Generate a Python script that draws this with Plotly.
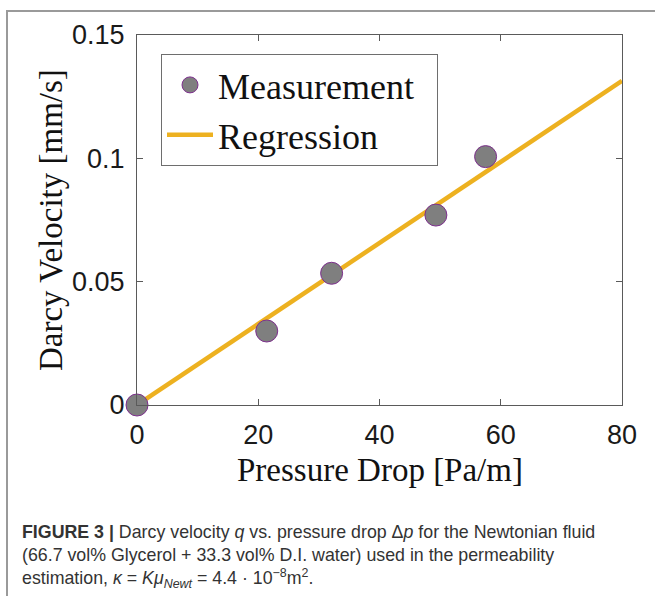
import plotly.graph_objects as go

# Data
pressure_drop = [0, 21.4, 32.1, 49.3, 57.5]          # Pa/m
darcy_velocity = [0, 0.0300, 0.0534, 0.0770, 0.1007]  # mm/s
reg_x = [0, 80]
reg_y = [0, 0.1314]
x_ticks = [0, 20, 40, 60, 80]
x_tick_labels = ["0", "20", "40", "60", "80"]
y_ticks = [0, 0.05, 0.1, 0.15]
y_tick_labels = ["0", "0.05", "0.1", "0.15"]

W, H = 655, 596
L, R, T, B = 137, 33, 35, 191
pw, ph = W - L - R, H - T - B


def px(xp):
    return (xp - L) / pw


def py(yp):
    return (H - B - yp) / ph


fig = go.Figure()
fig.add_trace(go.Scatter(
    x=reg_x, y=reg_y, mode="lines", name="Regression\u00a0", legendrank=2,
    line=dict(color="#EDB120", width=4.5),
))
fig.add_trace(go.Scatter(
    x=pressure_drop, y=darcy_velocity, mode="markers", name="Measurement\u00a0\u00a0",
    legendrank=1, cliponaxis=False,
    marker=dict(size=22, color="#7F7F7F", line=dict(color="#7E2F8E", width=1)),
))

axis_common = dict(
    showline=True, linecolor="#5a5a5a", linewidth=1, mirror="ticks",
    ticks="inside", ticklen=6, tickcolor="#5a5a5a", tickwidth=1,
    showgrid=False, zeroline=False,
    tickfont=dict(family="Liberation Sans, Arial", size=27, color="#1a1a1a"),
)

fig.update_layout(
    width=W, height=H,
    margin=dict(l=L, r=R, t=T, b=B),
    paper_bgcolor="white", plot_bgcolor="white",
    showlegend=True,
    legend=dict(
        x=px(161), y=py(54), xanchor="left", yanchor="top",
        bgcolor="white", bordercolor="#6e6e6e", borderwidth=1,
        font=dict(family="Liberation Serif", size=36, color="#111111"),
        itemwidth=46, tracegroupgap=0,
    ),
    xaxis=dict(range=[0, 80], tickvals=x_ticks, ticktext=x_tick_labels,
               ticklabelstandoff=6, **axis_common),
    yaxis=dict(range=[0, 0.15], tickvals=y_ticks, ticktext=y_tick_labels,
               ticklabelstandoff=6, **axis_common),
)

# Axis titles
fig.add_annotation(
    text="Pressure Drop [Pa/m]", xref="paper", yref="paper",
    x=0.5, y=py(470), xanchor="center", yanchor="middle", showarrow=False,
    font=dict(family="Liberation Serif", size=33, color="#111111"),
)
fig.add_annotation(
    text="Darcy Velocity [mm/s]", xref="paper", yref="paper",
    x=px(51), y=0.5, xanchor="center", yanchor="middle", showarrow=False,
    textangle=-90,
    font=dict(family="Liberation Serif", size=33, color="#111111"),
)

# Caption
caption = (
    "<b>FIGURE 3 |</b> Darcy velocity <i>q</i> vs. pressure drop Δ<i>p</i> for the Newtonian fluid<br>"
    "(66.7 vol% Glycerol + 33.3 vol% D.I. water) used in the permeability<br>"
    "estimation, <i>κ</i> = <i>Kμ</i><sub><i>Newt</i></sub> = 4.4 · 10<sup>−8</sup>m<sup>2</sup>."
)
fig.add_annotation(
    text=caption, xref="paper", yref="paper",
    x=px(20), y=py(520), xanchor="left", yanchor="top", align="left",
    showarrow=False,
    font=dict(family="Liberation Sans, Arial", size=17.8, color="#333333"),
)

# Outer figure frame
fig.add_shape(
    type="rect", xref="paper", yref="paper",
    x0=px(7), x1=px(700), y0=py(700), y1=py(11),
    line=dict(color="#9a9a9a", width=2), fillcolor="rgba(0,0,0,0)", layer="below",
)

fig.write_html("out.html")
